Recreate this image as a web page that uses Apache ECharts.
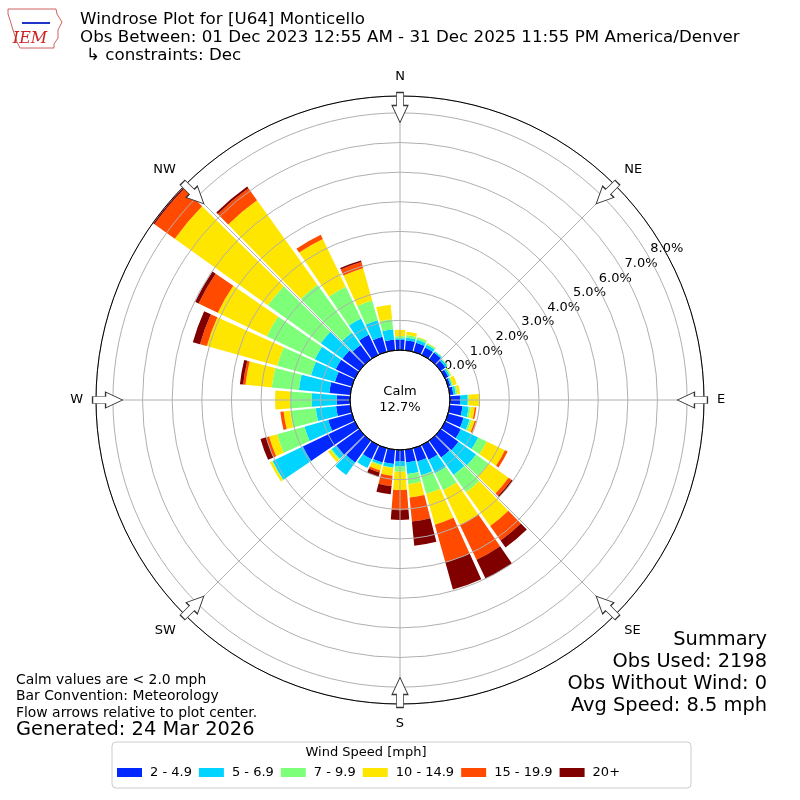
<!DOCTYPE html>
<html>
<head>
<meta charset="utf-8">
<title>Windrose Plot for [U64] Monticello</title>
<script src="https://cdn.jsdelivr.net/npm/echarts@6/dist/echarts.min.js"></script>
<style>
  html, body { margin: 0; padding: 0; background: #fff; }
  #chart { width: 800px; height: 800px; }
</style>
</head>
<body>
<div id="chart"></div>
<script>
// direction bins (degrees the wind blows from), 10 degree steps
const directions = [0, 10, 20, 30, 40, 50, 60, 70, 80, 90, 100, 110, 120, 130, 140, 150, 160, 170,
                    180, 190, 200, 210, 220, 230, 240, 250, 260, 270, 280, 290, 300, 310, 320, 330, 340, 350]

// percent of all observations, per direction bin, for each speed class
const speed2to5 = [0.34, 0.34, 0.32, 0.28, 0.28, 0.20, 0.12, 0.08, 0.12, 0.34, 0.43, 0.54, 0.59, 0.74, 0.70, 0.55, 0.47, 0.43,
                   0.39, 0.48, 0.50, 0.53, 0.91, 0.95, 1.95, 0.83, 0.48, 0.45, 0.71, 0.59, 0.72, 0.70, 0.60, 0.75, 0.53, 0.36]
const speed5to7 = [0.06, 0.09, 0.10, 0.10, 0.05, 0.07, 0.06, 0.05, 0.08, 0.26, 0.21, 0.21, 0.65, 0.73, 0.72, 0.50, 0.48, 0.39,
                   0.17, 0.12, 0.08, 0.33, 0.52, 0.20, 1.13, 0.83, 0.69, 0.84, 1.03, 0.84, 0.78, 0.90, 0.50, 0.61, 0.58, 0.35]
const speed7to10 = [0.07, 0.09, 0.08, 0.05, 0.02, 0.03, 0.04, 0.04, 0.06, 0.03, 0.07, 0.07, 0.32, 0.52, 0.72, 0.64, 0.65, 0.35,
                    0.17, 0.02, 0.04, 0, 0, 0.05, 0.02, 0.96, 0.86, 0.74, 0.92, 1.19, 1.80, 2.20, 2.00, 1.19, 0.69, 0.34]
const speed10to15 = [0.21, 0.11, 0.02, 0.02, 0, 0, 0.02, 0.13, 0.09, 0.38, 0.14, 0.11, 0.68, 0.83, 1.40, 1.30, 1.08, 0.45,
                     0.62, 0.26, 0.16, 0, 0, 0.10, 0.08, 0.28, 0.23, 0.50, 0.89, 2.46, 1.83, 3.86, 3.50, 1.79, 1.13, 0.49]
const speed15to20 = [0, 0, 0, 0, 0, 0, 0, 0, 0, 0, 0.05, 0.05, 0.10, 0.12, 0.60, 1.30, 1.32, 0.81,
                     0.68, 0.35, 0.07, 0, 0, 0, 0, 0.10, 0.11, 0, 0.08, 0.24, 0.72, 0.84, 0.50, 0.16, 0.22, 0]
const speed20plus = [0, 0, 0, 0, 0, 0, 0, 0, 0, 0, 0, 0, 0, 0.05, 0.29, 0.71, 0.95, 0.82,
                     0.33, 0.28, 0.15, 0, 0, 0, 0, 0.20, 0, 0, 0.11, 0.25, 0.13, 0.05, 0.07, 0, 0.05, 0]

const speedClasses = ['2 - 4.9', '5 - 6.9', '7 - 9.9', '10 - 14.9', '15 - 19.9', '20+']
const speedSeries = [speed2to5, speed5to7, speed7to10, speed10to15, speed15to20, speed20plus]
const speedColors = ['#0028ff', '#00d4ff', '#7dff7a', '#ffe600', '#ff4a00', '#800000']

const compassNames = ['N', 'NE', 'E', 'SE', 'S', 'SW', 'W', 'NW']
const compassAngles = [0, 45, 90, 135, 180, 225, 270, 315]

const calmText = 'Calm\n12.7%'
const titleLines = [
    'Windrose Plot for [U64] Monticello',
    'Obs Between: 01 Dec 2023 12:55 AM - 31 Dec 2025 11:55 PM America/Denver',
    '\u21b3 constraints: Dec'
]
const noteLines = ['Calm values are < 2.0 mph', 'Bar Convention: Meteorology', 'Flow arrows relative to plot center.']
const generatedText = 'Generated: 24 Mar 2026'
const summaryLines = ['Summary', 'Obs Used: 2198', 'Obs Without Wind: 0', 'Avg Speed: 8.5 mph']

const font = 'DejaVu Sans'
const center = [400, 400]
const calmRadius = 50
const outerRadius = 304
const rMax = 8.57
const arrowRadius = 8.18
// arrow pointing down (towards the centre when not rotated, placed at N)
const arrowPath = 'path://M4.5,0 L11.5,0 L11.5,13 L16,13 L8,30 L0,13 L4.5,13 Z'

const compassLabel = (value) => {
    const idx = compassAngles.indexOf(value)
    return idx >= 0 ? compassNames[idx] : ''
}

const hidden = { axisLine: { show: false }, axisTick: { show: false }, axisLabel: { show: false }, splitLine: { show: false } }

const textEl = (x, y, text, size, align) => ({
    type: 'text', x: x, y: y, z: 100, silent: true,
    style: { text: text, fontFamily: font, fontSize: size, fill: '#000', align: align, verticalAlign: 'middle' }
})

const makeGraphics = () => {
    let items = []
    titleLines.forEach((line, i) => {
        items.push(textEl(i === 2 ? 86 : 80, 20 + i * 18, line, 16.7, 'left'))
    })
    noteLines.forEach((line, i) => {
        items.push(textEl(16, 680 + i * 16.5, line, 13.9, 'left'))
    })
    items.push(textEl(16, 730, generatedText, 19.4, 'left'))
    summaryLines.forEach((line, i) => {
        items.push(textEl(767, 640 + i * 22, line, 19.4, 'right'))
    })
    items.push({
        type: 'text', x: 400, y: 400, z: 100, silent: true,
        style: { text: calmText, fontFamily: font, fontSize: 13, lineHeight: 16, fill: '#000', align: 'center', verticalAlign: 'middle' }
    })
    items.push(textEl(366, 753, 'Wind Speed [mph]', 13, 'center'))

    // IEM logo, rough
    items.push({
        type: 'polyline', z: 100, silent: true,
        shape: { points: [[8, 9], [56, 9], [57, 14], [62, 22], [58, 30], [58, 38], [54, 44], [54, 48], [20, 48], [17, 42], [13, 30], [10, 20], [8, 14], [8, 9]] },
        style: { stroke: '#d06060', lineWidth: 1, fill: null }
    })
    items.push({
        type: 'line', z: 100, silent: true,
        shape: { x1: 22, y1: 23, x2: 50, y2: 23 },
        style: { stroke: '#2233cc', lineWidth: 2 }
    })
    items.push({
        type: 'text', x: 30, y: 39, z: 100, silent: true,
        style: { text: 'IEM', fontFamily: 'DejaVu Serif', fontStyle: 'italic', fontSize: 16, fill: '#cc2222', align: 'center', verticalAlign: 'middle' }
    })
    return items
}

const makeOption = () => {
    let series = speedClasses.map((name, i) => ({
        name: name,
        type: 'bar',
        coordinateSystem: 'polar',
        polarIndex: 0,
        stack: 'wind',
        data: speedSeries[i],
        barCategoryGap: '12%',
        itemStyle: { color: speedColors[i] },
        z: 2
    }))
    series.push({
        type: 'scatter',
        coordinateSystem: 'polar',
        polarIndex: 1,
        symbol: arrowPath,
        symbolSize: [16, 30],
        silent: true,
        z: 8,
        itemStyle: { color: '#ffffff', borderColor: '#333333', borderWidth: 1, opacity: 1 },
        data: compassAngles.map(a => ({ value: [arrowRadius, a], symbolRotate: -a }))
    })

    return {
        animation: false,
        backgroundColor: '#ffffff',
        polar: [
            { center: center, radius: [calmRadius, outerRadius] },
            { center: center, radius: [calmRadius, outerRadius] },
            { center: center, radius: [calmRadius + 19.5, outerRadius + 19.5] },
            { center: center, radius: [0, calmRadius] }
        ],
        angleAxis: [
            Object.assign({ polarIndex: 0, type: 'category', data: directions.map(String), startAngle: 95, clockwise: true, boundaryGap: true }, hidden),
            {
                polarIndex: 1, type: 'value', min: 0, max: 360, interval: 45, startAngle: 90, clockwise: true, z: 6,
                axisLine: { show: true, lineStyle: { color: '#000000', width: 1 } },
                axisTick: { show: false },
                axisLabel: { show: true, margin: 13, fontFamily: font, fontSize: 13, color: '#000000', formatter: compassLabel },
                splitLine: { show: true, lineStyle: { color: '#b0b0b0', width: 1 } }
            },
            Object.assign({ polarIndex: 2, type: 'value', min: 0, max: 360, startAngle: 29.5 }, hidden),
            Object.assign({ polarIndex: 3, type: 'value', min: 0, max: 360, startAngle: 90, z: 7 }, hidden,
                { axisLine: { show: true, lineStyle: { color: '#000000', width: 1 } } })
        ],
        radiusAxis: [
            Object.assign({ polarIndex: 0, type: 'value', min: 0, max: rMax, interval: 1, z: 5 }, hidden,
                { splitLine: { show: true, lineStyle: { color: '#b0b0b0', width: 1 } } }),
            Object.assign({ polarIndex: 1, type: 'value', min: 0, max: rMax }, hidden),
            Object.assign({ polarIndex: 2, type: 'value', min: 0, max: rMax, interval: 1 }, hidden, {
                axisLabel: {
                    show: true, margin: 0, align: 'center', verticalAlign: 'middle', rotate: 0,
                    fontFamily: font, fontSize: 13, color: '#000000',
                    formatter: v => Number.isInteger(v) ? v.toFixed(1) + '%' : ''
                }
            }),
            Object.assign({ polarIndex: 3, type: 'value', min: 0, max: 1 }, hidden)
        ],
        legend: {
            data: speedClasses,
            left: 112,
            top: 742,
            orient: 'horizontal',
            icon: 'rect',
            itemWidth: 25,
            itemHeight: 9,
            itemGap: 7,
            padding: [24, 71, 9, 5],
            borderColor: '#cccccc',
            borderWidth: 1,
            borderRadius: 4,
            backgroundColor: '#ffffff',
            selectedMode: false,
            textStyle: { fontFamily: font, fontSize: 13, color: '#000000', padding: [0, 0, 0, 3] }
        },
        graphic: makeGraphics(),
        series: series
    }
}

const chart = echarts.init(document.getElementById('chart'), null, { renderer: 'canvas' })
chart.setOption(makeOption())
</script>
</body>
</html>
